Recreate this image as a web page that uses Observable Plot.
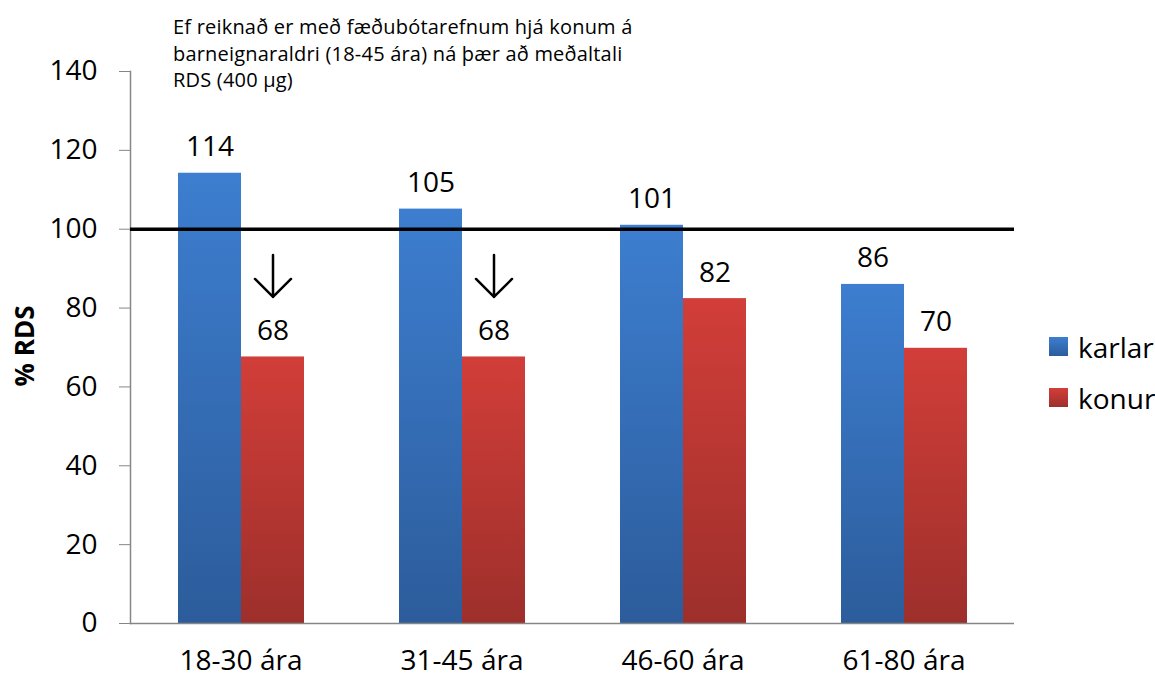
<!DOCTYPE html>
<html><head><meta charset="utf-8">
<script src="https://cdn.jsdelivr.net/npm/d3@7"></script>
<script src="https://cdn.jsdelivr.net/npm/@observablehq/plot@0.6"></script>
<style>
body{margin:0;background:#fff;font-family:"Open Sans",sans-serif;}
#wrap{position:relative;width:1155px;height:677px;overflow:hidden;}
#note{position:absolute;left:173px;top:14px;font-size:20px;letter-spacing:0.2px;line-height:26.5px;color:#000;white-space:nowrap;}
#legend{position:absolute;left:1049px;top:321px;font-size:28px;color:#000;}
.item{display:flex;align-items:center;height:51px;}
.sw{width:19px;height:19px;margin-right:10px;}
#ylab{position:absolute;left:24px;top:346px;transform:translate(-50%,-50%) rotate(-90deg);font-weight:bold;font-size:26px;white-space:nowrap;}
</style></head><body>
<div id="wrap"><div id="chart"></div><div id="note"></div><div id="ylab"></div><div id="legend"></div></div>
<script>
const groups = ["18-30 ára", "31-45 ára", "46-60 ára", "61-80 ára"];
const sexes = ["karlar", "konur"];
const karlar = [114.2, 105.1, 101, 86];
const konur = [67.6, 67.6, 82.4, 69.8];
const yTicks = [0, 20, 40, 60, 80, 100, 120, 140];
const referenceValue = 100;
const arrowGroups = ["18-30 ára", "31-45 ára"];
const noteLines = [
  "Ef reiknað er með fæðubótarefnum hjá konum á",
  "barneignaraldri (18-45 ára) ná þær að meðaltali",
  "RDS (400 µg)"
];
const yLabel = "% RDS";
const colors = {karlar: ["#3d7ed0", "#2c5c9b"], konur: ["#d23e39", "#9d2f2b"]};

const rows = [];
groups.forEach((g, i) => {
  rows.push({group: g, sex: "karlar", value: karlar[i]});
  rows.push({group: g, sex: "konur", value: konur[i]});
});
const arrowRows = rows.filter(d => d.sex === "konur" && arrowGroups.includes(d.group));
const fmt = d3.format(".0f");

const arrowShape = {
  draw(context, l) {
    const w = 18;
    context.moveTo(0, 0);
    context.lineTo(0, -l);
    context.moveTo(-w, -l + w);
    context.lineTo(0, -l);
    context.lineTo(w, -l + w);
  }
};

const chart = Plot.plot({
  width: 1155,
  height: 677,
  marginLeft: 130,
  marginRight: 141,
  marginTop: 71,
  marginBottom: 54,
  style: {fontFamily: "Open Sans", fontSize: "28px", color: "black", background: "white"},
  fx: {domain: groups, padding: 0, label: null},
  x: {domain: sexes, paddingInner: 0, paddingOuter: 0.727, axis: null},
  y: {domain: [0, 140], label: null},
  color: {domain: sexes, range: sexes.map(s => `url(#grad-${s})`)},
  marks: [
    Plot.barY(rows, {fx: "group", x: "sex", y: "value", fill: "sex"}),
    Plot.ruleY([0], {stroke: "#868686", strokeWidth: 1.5}),
    Plot.frame({anchor: "left", facetAnchor: "left", stroke: "#868686", strokeWidth: 1.5}),
    Plot.axisY({ticks: yTicks, tickSize: 11, tickPadding: 22, fontSize: 28, stroke: "#868686", fill: "black", label: null}),
    Plot.axisFx({anchor: "bottom", tickSize: 0, tickPadding: 27, fontSize: 28, label: null}),
    Plot.ruleY([referenceValue], {stroke: "black", strokeWidth: 3.5}),
    Plot.text(rows, {fx: "group", x: "sex", y: "value", text: d => fmt(d.value), dy: -26, fontSize: 28, fill: "black"}),
    Plot.vector(arrowRows, {fx: "group", x: "sex", y: "value", length: 42, rotate: 180, anchor: "end", dy: -60, shape: arrowShape, stroke: "black", strokeWidth: 2.5})
  ]
});

const defs = d3.select(chart).insert("defs", ":first-child");
sexes.forEach(s => {
  const lg = defs.append("linearGradient").attr("id", `grad-${s}`).attr("x1", 0).attr("y1", 0).attr("x2", 0).attr("y2", 1);
  lg.append("stop").attr("offset", "0%").attr("stop-color", colors[s][0]);
  lg.append("stop").attr("offset", "100%").attr("stop-color", colors[s][1]);
});
document.getElementById("chart").appendChild(chart);

document.getElementById("note").innerHTML = noteLines.join("<br>");
document.getElementById("ylab").textContent = yLabel;
const legend = document.getElementById("legend");
sexes.forEach(s => {
  const it = document.createElement("div");
  it.className = "item";
  it.innerHTML = `<div class="sw" style="background:linear-gradient(${colors[s][0]},${colors[s][1]})"></div><span>${s}</span>`;
  legend.appendChild(it);
});
</script>
</body></html>
